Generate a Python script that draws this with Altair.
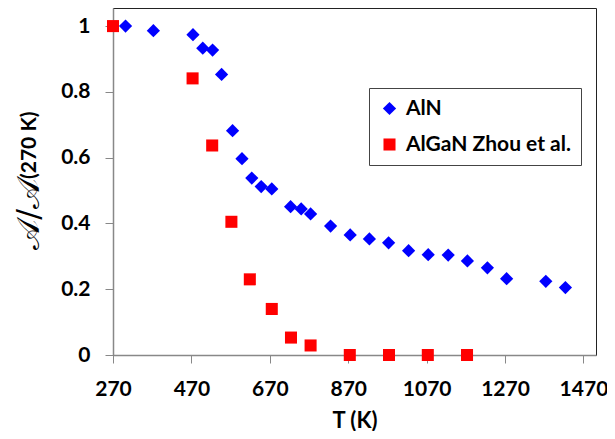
import altair as alt
import pandas as pd

# AlN (blue diamonds)
aln_T = [302, 373, 474, 499, 524, 547, 575, 599, 624, 648, 675, 723, 750, 774,
         825, 875, 924, 973, 1024, 1074, 1125, 1174, 1225, 1274, 1374, 1424]
aln_v = [1.0, 0.986, 0.974, 0.933, 0.927, 0.853, 0.682, 0.597, 0.538, 0.512, 0.505,
         0.451, 0.444, 0.429, 0.392, 0.365, 0.353, 0.341, 0.317, 0.305, 0.304,
         0.286, 0.265, 0.232, 0.224, 0.205]

# AlGaN Zhou et al. (red squares)
algan_T = [270, 473, 523, 572, 619, 675, 724, 774, 874, 974, 1073, 1173]
algan_v = [1.0, 0.841, 0.637, 0.405, 0.230, 0.140, 0.053, 0.029, 0.0, 0.0, 0.0, 0.0]

series_names = ["AlN", "AlGaN Zhou et al."]
x_ticks = [270, 470, 670, 870, 1070, 1270, 1470]
y_ticks = [0, 0.2, 0.4, 0.6, 0.8, 1]

df = pd.concat([
    pd.DataFrame({"T": aln_T, "v": aln_v, "series": series_names[0]}),
    pd.DataFrame({"T": algan_T, "v": algan_v, "series": series_names[1]}),
])

FONT = "Lato"
FS = 21

points = alt.Chart(df).mark_point(filled=True, opacity=1, strokeWidth=0).encode(
    x=alt.X("T:Q", scale=alt.Scale(domain=[270, 1502], nice=False, zero=False),
            axis=alt.Axis(values=x_ticks, title="T (K)", format="d", grid=False,
                          tickSize=8, labelPadding=15, labelFontSize=FS, labelFlush=False,
                          labelOverlap=False, labelBound=False,
                          titleFontSize=22, titleY=72, titleBaseline="alphabetic")),
    y=alt.Y("v:Q", scale=alt.Scale(domain=[0, 1.055], nice=False),
            axis=alt.Axis(values=y_ticks, title=None, format=".1~f", grid=False,
                          tickSize=8, labelPadding=15, labelFontSize=FS, labelFlush=False,
                          labelOverlap=False)),
    color=alt.Color("series:N", scale=alt.Scale(domain=series_names, range=["#0000ff", "#ff0000"]),
                    legend=alt.Legend(title=None, orient="none", legendX=256, legendY=80,
                                      padding=10, strokeColor="#444", fillColor="white",
                                      labelFontSize=FS, labelFont=FONT, labelFontWeight="bold",
                                      labelLimit=400,
                                      symbolSize=160, rowPadding=14, labelOffset=6,
                                      symbolStrokeWidth=0, labelColor="black")),
    shape=alt.Shape("series:N", scale=alt.Scale(domain=series_names, range=["diamond", "square"]),
                    legend=None),
    size=alt.Size("series:N", scale=alt.Scale(domain=series_names, range=[175, 145]), legend=None),
)

ytitle_a = alt.Chart(pd.DataFrame({"t": ["(270 K)"]})).mark_text(
    angle=270, align="left", baseline="middle", font=FONT, fontWeight="bold",
    fontSize=21, color="black"
).encode(text="t:N", x=alt.value(-83), y=alt.value(171))

ytitle_b = alt.Chart(pd.DataFrame({"t": ["\U0001D49C/\U0001D49C"]})).mark_text(
    angle=270, align="right", baseline="middle", font="DejaVu Serif",
    fontSize=32, color="black"
).encode(text="t:N", x=alt.value(-84), y=alt.value(171))

chart = alt.layer(points, ytitle_a, ytitle_b).properties(
    width=483, height=347,
    autosize=alt.AutoSizeParams(type="none"),
    padding={"left": 105, "top": 0, "right": 11, "bottom": 76},
).configure_view(
    stroke="#222", strokeWidth=1
).configure_axis(
    domainColor="#888", tickColor="#888", labelColor="black", titleColor="black",
    labelFont=FONT, titleFont=FONT, labelFontWeight="bold", titleFontWeight="bold",
    domainWidth=1.5
)

chart.save("out.html", embed_options={"renderer": "svg", "actions": False})
